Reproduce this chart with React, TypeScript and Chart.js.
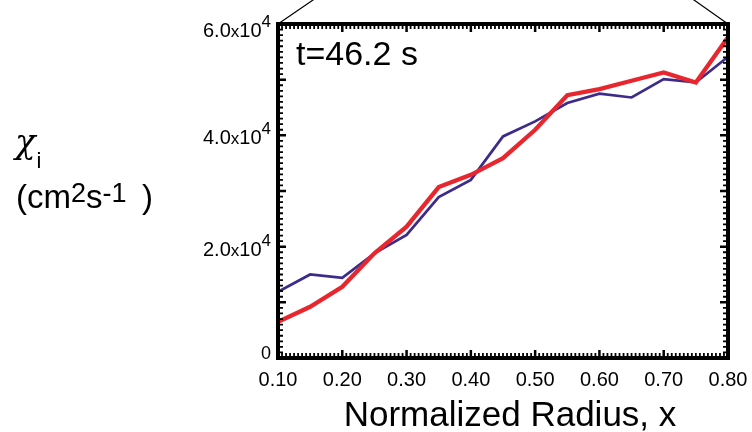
import React, { useEffect, useRef } from 'react';
import { Chart, registerables } from 'chart.js';

Chart.register(...registerables);

// ---- data ----
const radius = [0.1, 0.15, 0.2, 0.25, 0.3, 0.35, 0.4, 0.45, 0.5, 0.55, 0.6, 0.65, 0.7, 0.75, 0.8];
const chiMeasured = [11900, 15000, 14400, 18800, 22100, 28900, 32000, 39800, 42500, 45800, 47500, 46800, 50100, 49500, 54100];
const chiModel = [6500, 9200, 12800, 18800, 23600, 30700, 32900, 35900, 41000, 47200, 48300, 49800, 51300, 49500, 57600];

const xTickValues = [0.1, 0.2, 0.3, 0.4, 0.5, 0.6, 0.7, 0.8];
const xTickLabels = ['0.10', '0.20', '0.30', '0.40', '0.50', '0.60', '0.70', '0.80'];
const yTickValues = [0, 20000, 40000, 60000];
const yTickMantissas = ['0', '2.0', '4.0', '6.0'];
const yTickExponent = '4';
const xMinorPerMajor = 16;
const yMajorStep = 10000;
const yMinorPerMajor = 10;

const timeLabel = 't=46.2 s';
const xTitle = 'Normalized Radius, x';

const FONT = '"Liberation Sans", Arial, Helvetica, sans-serif';
const RED = '#e8262e';
const BLUE = '#3d2b8c';

const framePlugin = {
  id: 'framePlugin',
  afterDraw(chart: any) {
    const { ctx, chartArea: a, scales } = chart;
    const xs = scales.x;
    const ys = scales.y;
    ctx.save();

    // zoom-inset connector lines
    ctx.strokeStyle = '#000';
    ctx.lineWidth = 1.2;
    ctx.beginPath();
    ctx.moveTo(a.left, a.top);
    ctx.lineTo(a.left + 35 * 1.4, a.top - 24 * 1.4);
    ctx.moveTo(a.right, a.top);
    ctx.lineTo(a.right - 34 * 1.4, a.top - 24 * 1.4);
    ctx.stroke();

    // frame
    ctx.lineWidth = 4;
    ctx.strokeStyle = '#000';
    ctx.lineCap = 'square';
    ctx.strokeRect(a.left, a.top, a.right - a.left, a.bottom - a.top);
    ctx.lineCap = 'butt';

    // x ticks (bottom & top)
    const xMin = xTickValues[0];
    const xMax = xTickValues[xTickValues.length - 1];
    const xStep = (xTickValues[1] - xTickValues[0]) / xMinorPerMajor;
    const nx = Math.round((xMax - xMin) / xStep);
    for (let i = 0; i <= nx; i++) {
      const major = i % xMinorPerMajor === 0;
      const px = xs.getPixelForValue(xMin + i * xStep);
      const len = major ? 8 : 5;
      ctx.lineWidth = major ? 2.5 : 1.8;
      ctx.beginPath();
      ctx.moveTo(px, a.bottom);
      ctx.lineTo(px, a.bottom - len);
      ctx.moveTo(px, a.top);
      ctx.lineTo(px, a.top + len);
      ctx.stroke();
    }
    // y ticks (left & right)
    const yMax = yTickValues[yTickValues.length - 1];
    const yStep = yMajorStep / yMinorPerMajor;
    const ny = Math.round(yMax / yStep);
    for (let i = 0; i <= ny; i++) {
      const major = i % yMinorPerMajor === 0;
      const py = ys.getPixelForValue(i * yStep);
      const len = major ? 8 : 5;
      ctx.lineWidth = major ? 2.5 : 1.8;
      ctx.beginPath();
      ctx.moveTo(a.left, py);
      ctx.lineTo(a.left + len, py);
      ctx.moveTo(a.right, py);
      ctx.lineTo(a.right - len, py);
      ctx.stroke();
    }

    // x tick labels
    ctx.fillStyle = '#000';
    ctx.font = `20px ${FONT}`;
    ctx.textAlign = 'center';
    ctx.textBaseline = 'alphabetic';
    xTickValues.forEach((v, i) => {
      ctx.fillText(xTickLabels[i], xs.getPixelForValue(v), a.bottom + 28);
    });

    // y tick labels with superscript exponent
    const labelRight = a.left - 7;
    yTickValues.forEach((v, i) => {
      let py = ys.getPixelForValue(v);
      ctx.textAlign = 'left';
      if (v === 0) {
        ctx.font = `18px ${FONT}`;
        const w = ctx.measureText(yTickMantissas[i]).width;
        ctx.fillText(yTickMantissas[i], labelRight - w, py + 1);
        return;
      }
      if (i === yTickValues.length - 1) py += 4;
      ctx.font = `17px ${FONT}`;
      const supW = ctx.measureText(yTickExponent).width;
      ctx.font = `20px ${FONT}`;
      const m = yTickMantissas[i];
      const mW = ctx.measureText(m).width;
      ctx.font = `17px ${FONT}`;
      const xW = ctx.measureText('x').width;
      ctx.font = `20px ${FONT}`;
      const tW = ctx.measureText('10').width;
      let x0 = labelRight - supW - tW - xW - mW;
      ctx.font = `20px ${FONT}`;
      ctx.fillText(m, x0, py + 9);
      x0 += mW;
      ctx.font = `17px ${FONT}`;
      ctx.fillText('x', x0, py + 9);
      x0 += xW;
      ctx.font = `20px ${FONT}`;
      ctx.fillText('10', x0, py + 9);
      x0 += tW;
      ctx.font = `17px ${FONT}`;
      ctx.fillText(yTickExponent, x0, py - 1);
    });

    // time label inside the plot
    ctx.font = `34px ${FONT}`;
    ctx.textAlign = 'left';
    ctx.fillText(timeLabel, a.left + 18, a.top + 41);

    // x axis title
    ctx.font = `35px ${FONT}`;
    ctx.textAlign = 'center';
    ctx.fillText(xTitle, 510, 426);

    // y axis title: chi_i (cm^2 s^-1)
    ctx.textAlign = 'left';
    ctx.font = `italic 34px "DejaVu Serif", serif`;
    ctx.fillText('\u03c7', 15, 153);
    const chiW = ctx.measureText('\u03c7').width;
    ctx.font = `22px ${FONT}`;
    ctx.fillText('i', 15 + chiW + 1, 168);

    let ux = 16;
    const ub = 208;
    const parts: [string, boolean][] = [['(cm', false], ['2', true], ['s', false], ['-1', true]];
    parts.forEach(([t, sup]) => {
      ctx.font = sup ? `27px ${FONT}` : `33px ${FONT}`;
      ctx.fillText(t, ux, sup ? ub - 6 : ub);
      ux += ctx.measureText(t).width;
    });
    ctx.font = `33px ${FONT}`;
    ctx.fillText(')', 142, ub);

    ctx.restore();
  },
};

export default function App() {
  const ref = useRef<HTMLCanvasElement | null>(null);
  useEffect(() => {
    if (!ref.current) return;
    const chart = new Chart(ref.current, {
      type: 'line',
      data: {
        datasets: [
          {
            label: 'model',
            data: radius.map((r, i) => ({ x: r, y: chiModel[i] })),
            borderColor: RED,
            borderWidth: 4.3,
            pointRadius: 0,
            tension: 0,
            fill: false,
            order: 0,
          },
          {
            label: 'measured',
            data: radius.map((r, i) => ({ x: r, y: chiMeasured[i] })),
            borderColor: BLUE,
            borderWidth: 2.7,
            pointRadius: 0,
            tension: 0,
            fill: false,
            order: 1,
          },
        ],
      },
      options: {
        animation: false,
        responsive: false,
        devicePixelRatio: 1,
        layout: { padding: { left: 278, right: 24, top: 24, bottom: 74 } },
        plugins: { legend: { display: false }, tooltip: { enabled: false } },
        scales: {
          x: { type: 'linear', min: xTickValues[0], max: xTickValues[xTickValues.length - 1], display: false },
          y: { type: 'linear', min: 0, max: yTickValues[yTickValues.length - 1], display: false },
        },
      },
      plugins: [framePlugin],
    });
    return () => chart.destroy();
  }, []);
  return (
    <div style={{ position: 'absolute', left: 0, top: 0, width: 752, height: 432, background: '#fff' }}>
      <canvas ref={ref} width={752} height={432} style={{ width: 752, height: 432 }} />
    </div>
  );
}
